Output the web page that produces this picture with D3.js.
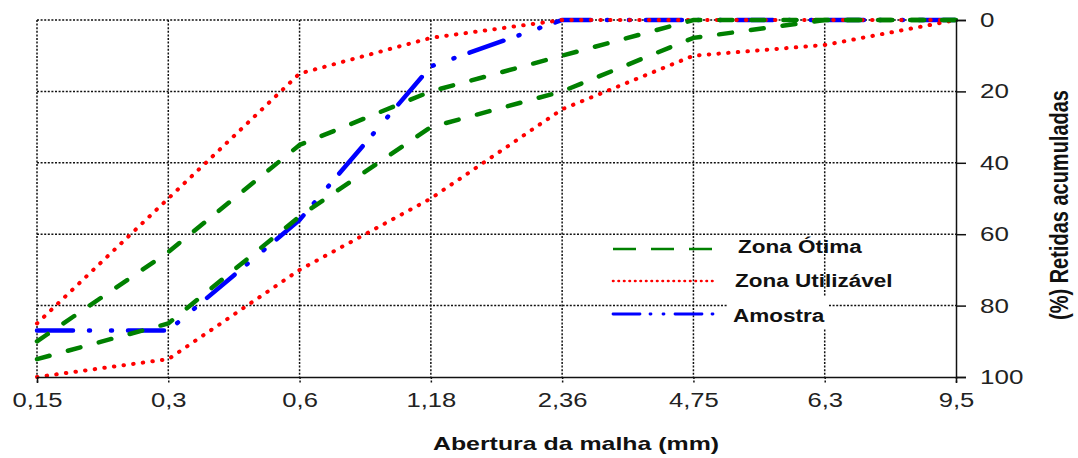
<!DOCTYPE html>
<html>
<head>
<meta charset="utf-8">
<script src="https://cdn.jsdelivr.net/npm/d3@7"></script>
<style>
  body { margin: 0; background: #fff; }
  svg { display: block; font-family: "Liberation Sans", Arial, sans-serif; }
</style>
</head>
<body>
<script>
// peneiras (mm) e % retida acumulada
var aberturas = ["0,15", "0,3", "0,6", "1,18", "2,36", "4,75", "6,3", "9,5"];
var otimaInf = [90, 65, 35, 20, 10, 0, 0, 0];
var otimaSup = [95, 85, 55, 30, 20, 5, 0, 0];
var utilInf = [85, 50, 15, 5, 0, 0, 0, 0];
var utilSup = [100, 95, 70, 50, 25, 10, 7, 0];
var amostra = [87, 87, 56, 13, 0, 0, 0, 0];
var yTicks = [0, 20, 40, 60, 80, 100];

var svgWidth = 1078, svgHeight = 458;
// ("top" is taken by window.top, so plot edges get their own names)
var plotLeft = 37, plotRight = 956, plotTop = 20, plotBottom = 377;

var svg = d3.select("body").append("svg")
  .attr("width", svgWidth)
  .attr("height", svgHeight);

var x = d3.scalePoint().domain(aberturas).range([plotLeft, plotRight]);
var y = d3.scaleLinear().domain([0, 100]).range([plotTop, plotBottom]);

// grade pontilhada
var grid = svg.append("g")
  .attr("stroke", "#111")
  .attr("stroke-width", 1.5)
  .attr("stroke-dasharray", "2,1.6");

grid.selectAll("line.v")
  .data(aberturas.slice(0, -1))
  .enter().append("line")
  .attr("class", "v")
  .attr("x1", d => x(d)).attr("x2", d => x(d))
  .attr("y1", plotTop).attr("y2", plotBottom);

grid.selectAll("line.h")
  .data(yTicks.slice(0, -1))
  .enter().append("line")
  .attr("class", "h")
  .attr("x1", plotLeft).attr("x2", plotRight)
  .attr("y1", d => y(d)).attr("y2", d => y(d));

// series
var line = d3.line()
  .x((d, i) => x(aberturas[i]))
  .y(d => y(d));

var series = [
  { values: amostra, color: "#0000ff", width: 4.5, dash: "36,16,1,21,1,16", cap: "round" },
  { values: utilInf, color: "#ff0000", width: 4, dash: "0.5,9.2", cap: "round" },
  { values: utilSup, color: "#ff0000", width: 4, dash: "0.5,9.2", cap: "round" },
  { values: otimaInf, color: "#008000", width: 4.5, dash: "13,19", cap: "round" },
  { values: otimaSup, color: "#008000", width: 4.5, dash: "13,19", cap: "round" }
];

svg.selectAll("path.serie")
  .data(series)
  .enter().append("path")
  .attr("class", "serie")
  .attr("d", d => line(d.values))
  .attr("fill", "none")
  .attr("stroke", d => d.color)
  .attr("stroke-width", d => d.width)
  .attr("stroke-dasharray", d => d.dash)
  .attr("stroke-linecap", d => d.cap);

// eixo x
var xAxis = svg.append("g")
  .attr("transform", `translate(0, ${plotBottom})`)
  .call(d3.axisBottom(x).tickSize(6));
xAxis.select(".domain").attr("stroke", "#111").attr("stroke-width", 1.5);
xAxis.selectAll(".tick line").attr("stroke", "#111").attr("stroke-width", 1.5).attr("stroke-dasharray", "2,1.6");
xAxis.selectAll("text")
  .attr("y", null).attr("dy", null)
  .attr("transform", "translate(0,30) scale(1.22,1)")
  .attr("text-anchor", "middle")
  .attr("font-size", 21)
  .attr("fill", "#222");

// eixo y (direita)
var yAxis = svg.append("g")
  .attr("transform", `translate(${plotRight}, 0)`)
  .call(d3.axisRight(y).tickValues(yTicks).tickSize(10));
yAxis.select(".domain").attr("stroke", "#111").attr("stroke-width", 1.5);
yAxis.selectAll(".tick line").attr("stroke", "#111").attr("stroke-width", 1.5);
yAxis.selectAll("text")
  .attr("x", null).attr("dy", null)
  .attr("transform", "translate(24,6.5) scale(1.3,1)")
  .attr("text-anchor", "start")
  .attr("font-size", 20)
  .attr("fill", "#222");

// titulos
svg.append("text")
  .attr("transform", "translate(576,450) scale(1.31,1)")
  .attr("text-anchor", "middle")
  .attr("font-size", 19)
  .attr("font-weight", "bold")
  .attr("fill", "#111")
  .text("Abertura da malha (mm)");

svg.append("text")
  .attr("transform", "translate(1068,205) scale(1.3,1) rotate(-90)")
  .attr("text-anchor", "middle")
  .attr("font-size", 20)
  .attr("font-weight", "bold")
  .attr("fill", "#111")
  .text("(%) Retidas acumuladas");

// legenda
svg.append("rect")
  .attr("x", 727).attr("y", 296)
  .attr("width", 101).attr("height", 33)
  .attr("fill", "#fff");

var legenda = [
  { nome: "Zona Ótima", color: "#008000", dash: "23,15", x2: 723, ly: 249, tx: 738, ty: 253, cap: "butt", width: 2.6 },
  { nome: "Zona Utilizável", color: "#ff0000", dash: "0.5,5", x2: 717, ly: 281, tx: 735, ty: 287, cap: "round", width: 2.6 },
  { nome: "Amostra", color: "#0000ff", dash: "27,10,1,12,1,11", x2: 717, ly: 314, tx: 733, ty: 322, cap: "round", width: 2.8 }
];

var leg = svg.selectAll("g.leg")
  .data(legenda)
  .enter().append("g")
  .attr("class", "leg");

leg.append("line")
  .attr("x1", 613).attr("x2", d => d.x2)
  .attr("y1", d => d.ly).attr("y2", d => d.ly)
  .attr("stroke", d => d.color)
  .attr("stroke-width", d => d.width)
  .attr("stroke-dasharray", d => d.dash)
  .attr("stroke-linecap", d => d.cap);

leg.append("text")
  .attr("transform", d => `translate(${d.tx},${d.ty}) scale(1.25,1)`)
  .attr("font-size", 18)
  .attr("font-weight", "bold")
  .attr("fill", "#111")
  .text(d => d.nome);
</script>
</body>
</html>
